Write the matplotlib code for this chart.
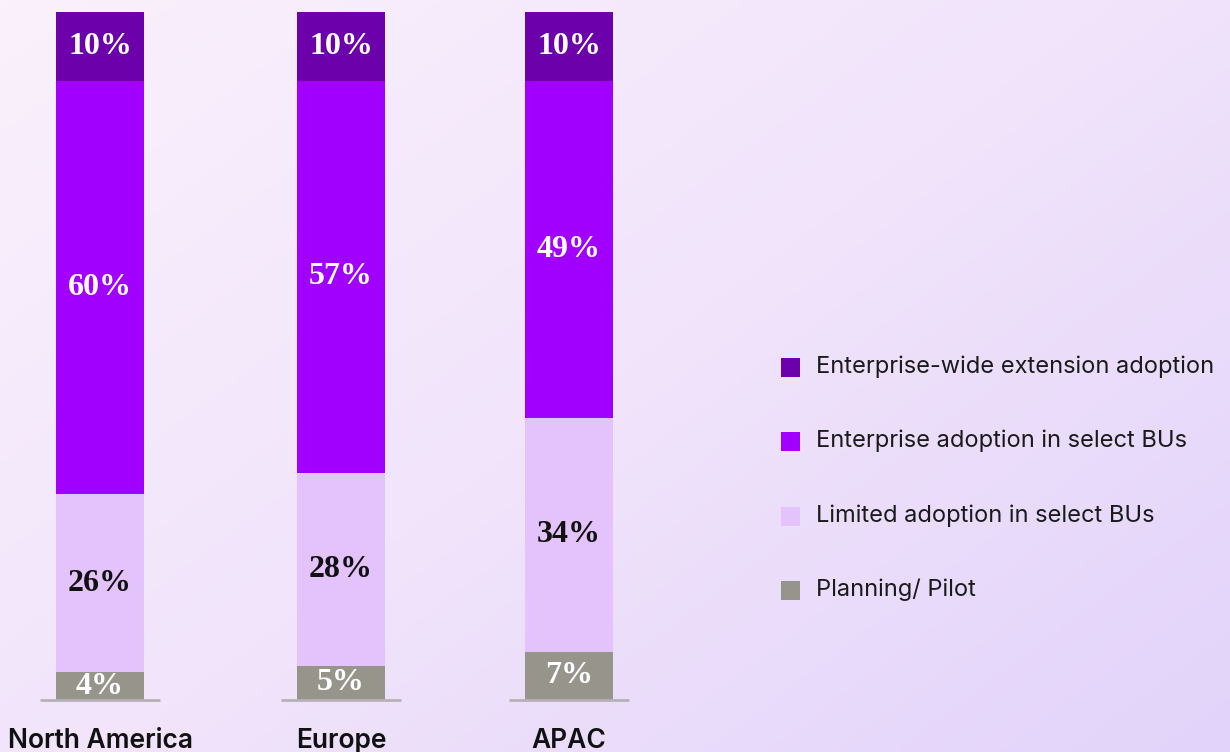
import numpy as np
import matplotlib.pyplot as plt
from matplotlib.colors import LinearSegmentedColormap
from matplotlib.patches import Rectangle

# Extension adoption by region (% of respondents)
regions = ['North America', 'Europe', 'APAC']
stages = ['Planning/ Pilot', 'Limited adoption in select BUs',
          'Enterprise adoption in select BUs', 'Enterprise-wide extension adoption']
planning = [4, 5, 7]
limited = [26, 28, 34]
select_bus = [60, 57, 49]
enterprise_wide = [10, 10, 10]

colors = ['#97958b', '#e4c2fc', '#a100ff', '#6c00ab']
label_colors = ['white', '#111111', 'white', 'white']

W, H = 1230, 752
fig = plt.figure(figsize=(W / 100, H / 100), dpi=100)

# soft pink -> lavender background
bg = fig.add_axes([0, 0, 1, 1], zorder=-10)
gx, gy = np.meshgrid(np.linspace(0, 1, 300), np.linspace(0, 1, 200))
grad = 0.55 * gx + 0.45 * gy
cmap = LinearSegmentedColormap.from_list('bg', ['#faf1fb', '#f1e4fb', '#e2d3fa'])
bg.imshow(grad, cmap=cmap, aspect='auto', extent=[0, 1, 1, 0])
bg.axis('off')

# bar area in pixel-like x units, baseline at y=700
ax = fig.add_axes([0, 1 - 700 / H, 700 / W, 688 / H])
ax.set_xlim(0, 700)
ax.set_ylim(0, 100)
ax.patch.set_alpha(0)
for s in ax.spines.values():
    s.set_visible(False)
ax.set_yticks([])
ax.set_xticks([])

x = np.array([100, 341, 569])
width = 88
series = [planning, limited, select_bus, enterprise_wide]
bottom = np.zeros(len(regions))
for vals, col, tc in zip(series, colors, label_colors):
    vals = np.array(vals, dtype=float)
    ax.bar(x, vals, width, bottom=bottom, color=col, linewidth=0)
    for xi, b, v in zip(x, bottom, vals):
        ax.text(xi, b + v / 2, f'{int(v)}%', ha='center', va='center',
                color=tc, fontsize=23, fontweight='bold', family='Liberation Serif')
    bottom += vals

# short baseline under each bar
for xi in x:
    ax.plot([xi - 60, xi + 60], [0, 0], color='#b6b1b6',
            lw=2, solid_capstyle='butt', clip_on=False)

for xi, name in zip(x, regions):
    ax.text(xi, -6.0, name, ha='center', va='center', fontsize=19,
            fontweight='semibold', family='Inter', color='#111111')

# legend, top entry = top segment
legend_rows = [367, 441, 516, 590]
for yy, lab, col in zip(legend_rows, stages[::-1], colors[::-1]):
    fig.patches.append(Rectangle((781 / W, 1 - (yy + 9.5) / H), 19 / W, 19 / H,
                                 transform=fig.transFigure, color=col, lw=0))
    fig.text(816 / W, 1 - yy / H, lab, ha='left', va='center', fontsize=17,
             family='Inter', color='#1a1a1a')

fig.savefig('out.png', dpi=100)
